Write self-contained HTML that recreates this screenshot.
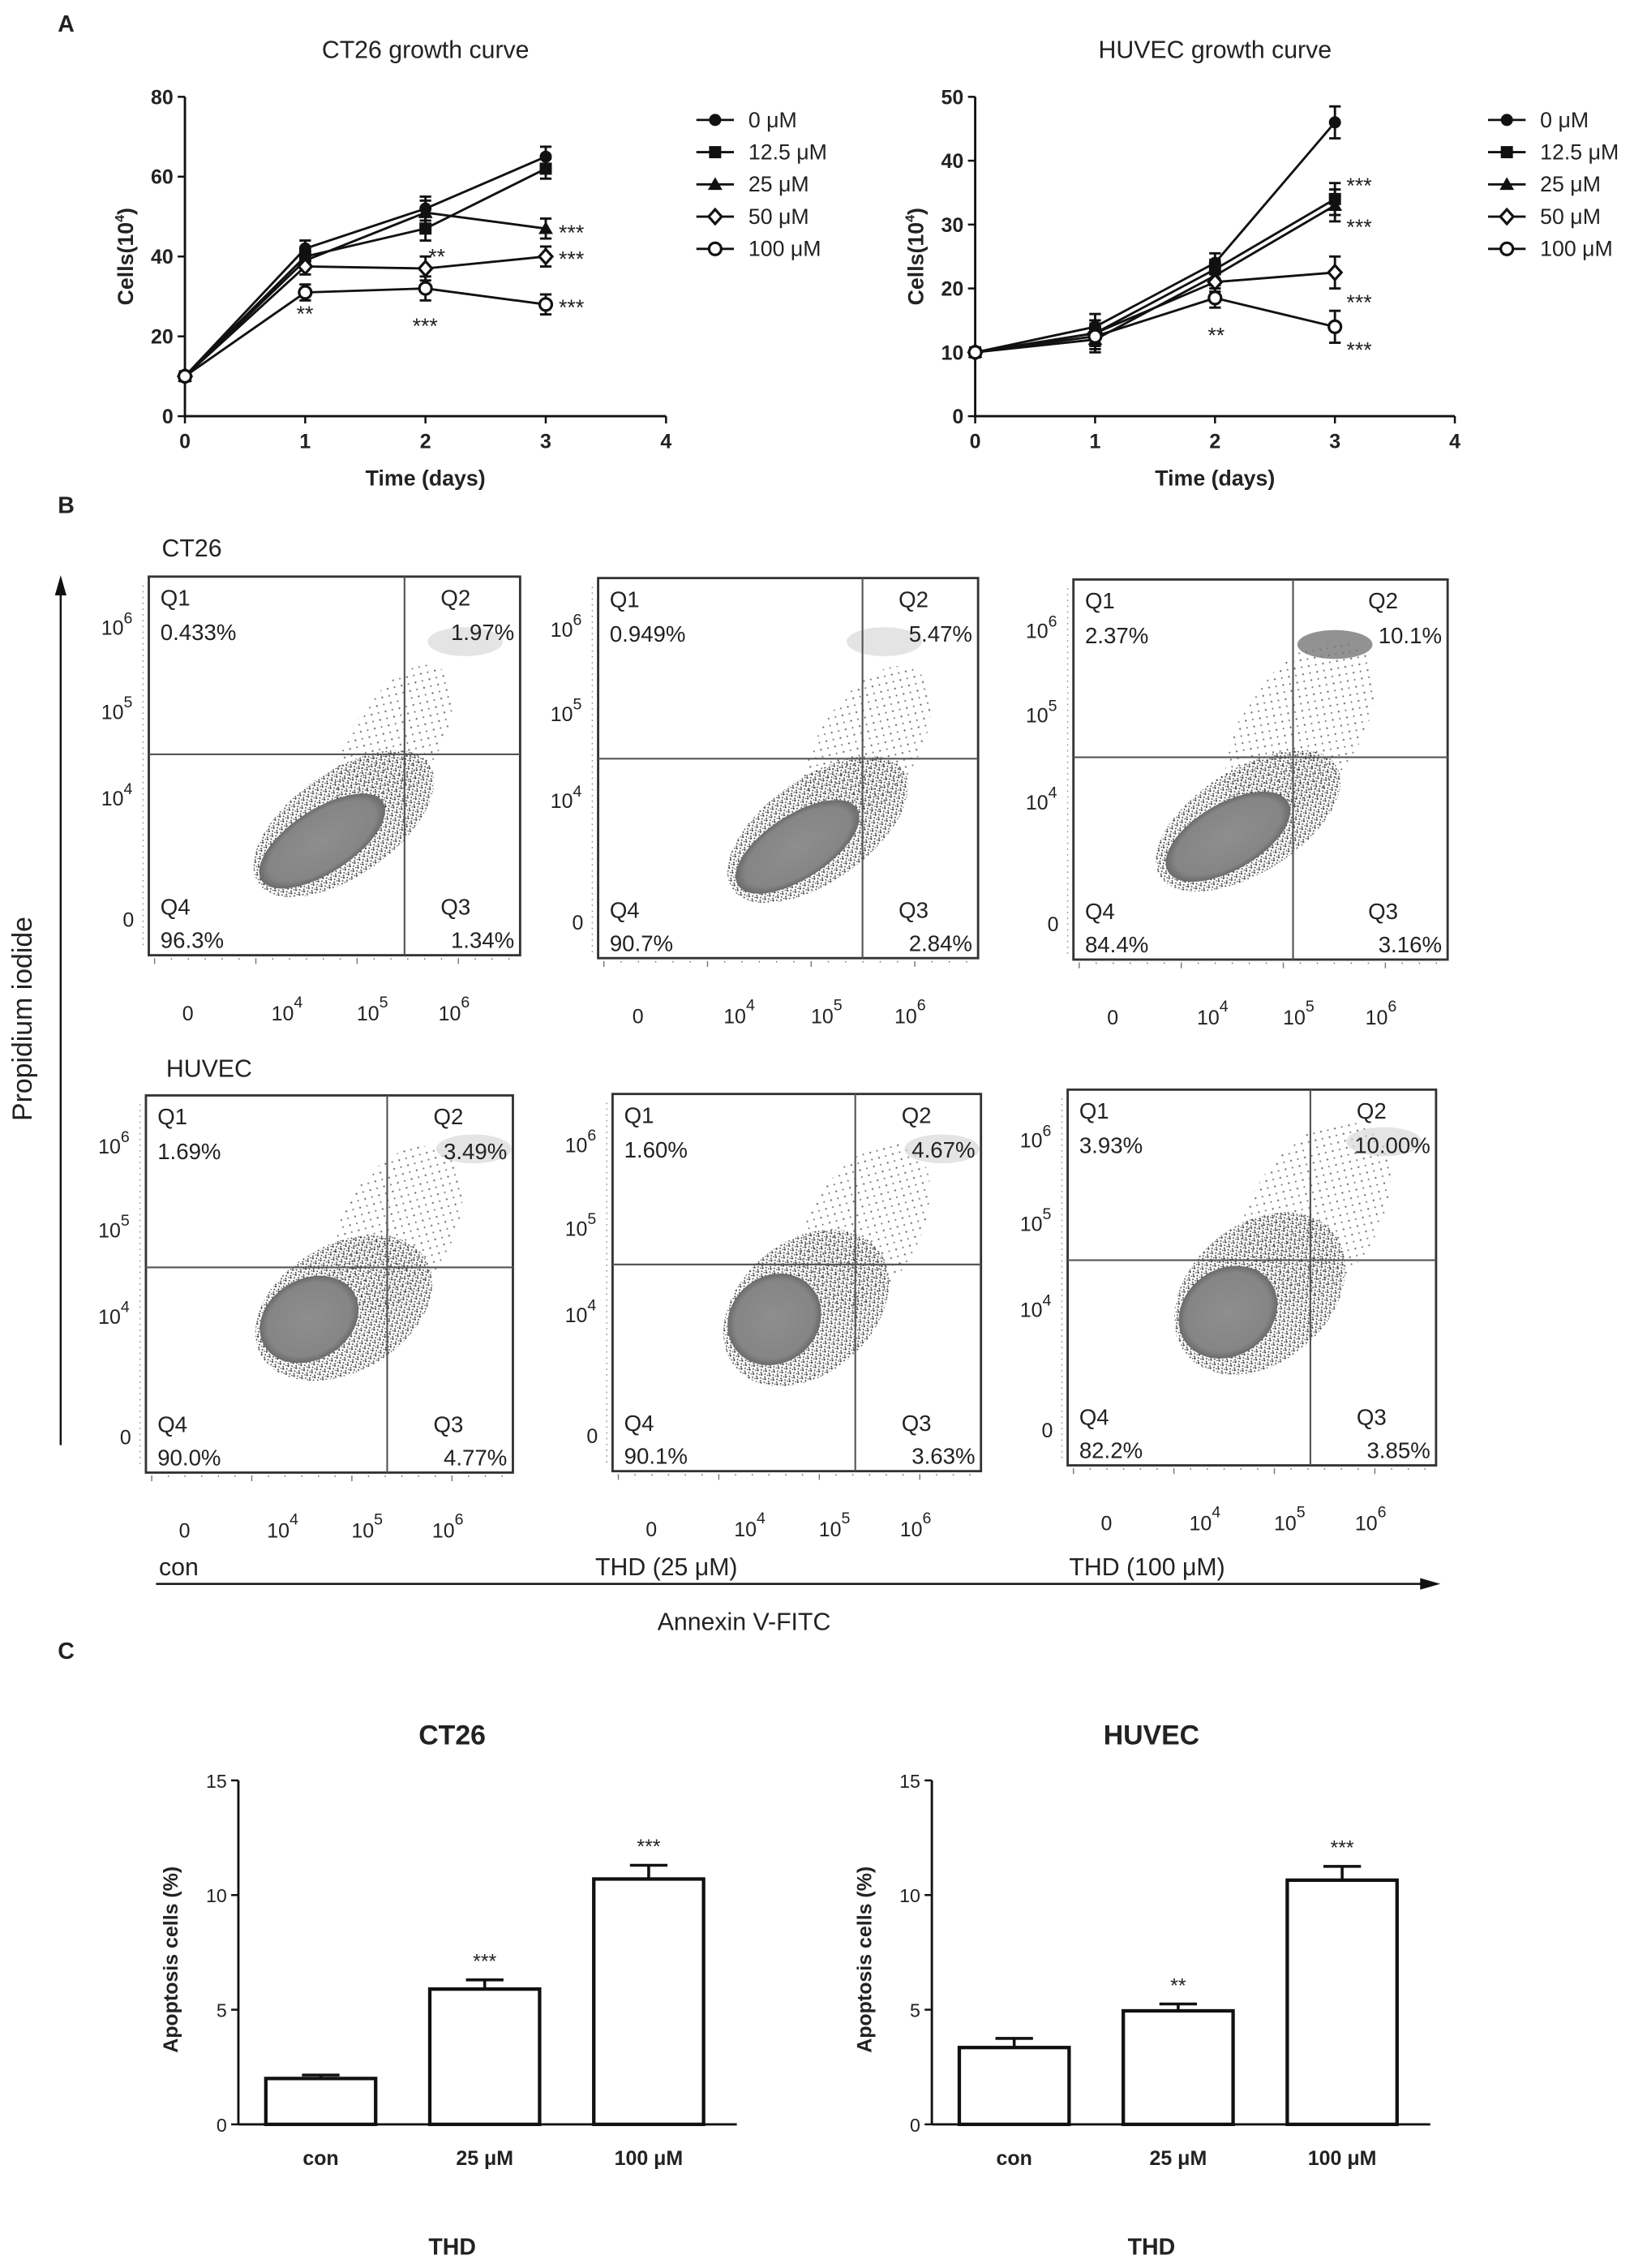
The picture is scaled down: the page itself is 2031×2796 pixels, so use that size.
<!DOCTYPE html>
<html><head><meta charset="utf-8">
<style>
html,body{margin:0;padding:0;background:#fff;}
svg{display:block;}
text{font-family:"Liberation Sans",Arial,sans-serif;fill:#222;}
</style></head>
<body>
<svg id="fig" width="2031" height="2796" viewBox="0 0 1140 1569.4" xmlns="http://www.w3.org/2000/svg">
<defs>
<pattern id="speck" width="4" height="4" patternUnits="userSpaceOnUse">
<rect x="0" y="0" width="1.2" height="1.2" fill="#222"/>
<rect x="2.2" y="1.4" width="1" height="1" fill="#333"/>
<rect x="0.8" y="2.8" width="1" height="1" fill="#2a2a2a"/>
<rect x="3" y="3.2" width="0.9" height="0.9" fill="#444"/>
</pattern>
<pattern id="speck2" width="7" height="7" patternUnits="userSpaceOnUse">
<rect x="1" y="1" width="1.1" height="1.1" fill="#444"/>
<rect x="4.5" y="4.5" width="1" height="1" fill="#555"/>
</pattern>
<radialGradient id="core" cx="50%" cy="50%" r="50%">
<stop offset="0" stop-color="#8e8e8e"/><stop offset="0.85" stop-color="#858585"/><stop offset="1" stop-color="#6a6a6a"/>
</radialGradient>
</defs>
<g id="root"></g>
</svg>
<script>
// ---------- Panel A data ----------
const days = [0, 1, 2, 3];
const doses = ["0 μM", "12.5 μM", "25 μM", "50 μM", "100 μM"];
const ct26Growth0 = [10, 42, 52, 65];
const ct26Growth125 = [10, 40, 47, 62];
const ct26Growth25 = [10, 39, 51, 47];
const ct26Growth50 = [10, 37.5, 37, 40];
const ct26Growth100 = [10, 31, 32, 28];
const ct26Err = [0.5, 2, 3, 2.5];
const huvecGrowth0 = [10, 14, 24, 46];
const huvecGrowth125 = [10, 13, 23, 34];
const huvecGrowth25 = [10, 12, 22, 33];
const huvecGrowth50 = [10, 13, 21, 22.5];
const huvecGrowth100 = [10, 12.5, 18.5, 14];
const huvecErr = [0.3, 2, 1.5, 2.5];
const ct26YTicks = [0, 20, 40, 60, 80];
const huvecYTicks = [0, 10, 20, 30, 40, 50];
const xTicks = [0, 1, 2, 3, 4];
// ---------- Panel C data ----------
const barCats = ["con", "25 μM", "100 μM"];
const ct26Apop = [2.0, 5.9, 10.7];
const ct26ApopErr = [0.15, 0.4, 0.6];
const ct26ApopSig = ["", "***", "***"];
const huvecApop = [3.35, 4.95, 10.65];
const huvecApopErr = [0.4, 0.3, 0.6];
const huvecApopSig = ["", "**", "***"];
const apopTicks = [0, 5, 10, 15];
// ---------- Panel B data ----------
const flowQ1 = ["0.433%", "0.949%", "2.37%", "1.69%", "1.60%", "3.93%"];
const flowQ2 = ["1.97%", "5.47%", "10.1%", "3.49%", "4.67%", "10.00%"];
const flowQ3 = ["1.34%", "2.84%", "3.16%", "4.77%", "3.63%", "3.85%"];
const flowQ4 = ["96.3%", "90.7%", "84.4%", "90.0%", "90.1%", "82.2%"];

const NS = "http://www.w3.org/2000/svg";
const root = document.getElementById("root");
function el(tag, attrs, parent, txt){
  const e = document.createElementNS(NS, tag);
  for (const k in attrs) e.setAttribute(k, attrs[k]);
  if (txt !== undefined) e.textContent = txt;
  (parent || root).appendChild(e);
  return e;
}
function T(x,y,s,size,opts,parent){
  opts = opts||{};
  const a = {x:x,y:y,"font-size":size,"text-anchor":opts.anchor||"start"};
  if (opts.bold) a["font-weight"]="bold";
  if (opts.transform) a.transform=opts.transform;
  return el("text",a,parent,s);
}
function g(name){ const e = el("g",{});   return e; }

[["A",40,22],["B",40,355],["C",40,1148]].forEach(p=>{
  const t=T(p[1],p[2],p[0],16,{bold:true});
  
  
});

function marker(type, x, y, parent){
  if (type===0) el("circle",{cx:x,cy:y,r:4.2,fill:"#111"},parent);
  else if (type===1) el("rect",{x:x-4.2,y:y-4.2,width:8.4,height:8.4,fill:"#111"},parent);
  else if (type===2) el("polygon",{points:`${x},${y-5} ${x+5},${y+3.8} ${x-5},${y+3.8}`,fill:"#111"},parent);
  else if (type===3) el("polygon",{points:`${x},${y-5} ${x+4.5},${y} ${x},${y+5} ${x-4.5},${y}`,fill:"#fff",stroke:"#111","stroke-width":1.8},parent);
  else el("circle",{cx:x,cy:y,r:4.2,fill:"#fff",stroke:"#111","stroke-width":1.8},parent);
}
function growth(cfg){
  const G = g(cfg.name);
  const X = d => cfg.x0 + d*(cfg.x1-cfg.x0)/4;
  const Y = v => cfg.y0 - v*(cfg.y0-cfg.y1)/cfg.ymax;
  const tt = T((cfg.x0+cfg.x1)/2, 40, cfg.title, 17, {anchor:"middle"}, G);
   
  el("line",{x1:cfg.x0,y1:cfg.y0,x2:cfg.x0,y2:cfg.y1,stroke:"#111","stroke-width":1.6},G);
  el("line",{x1:cfg.x0,y1:cfg.y0,x2:cfg.x1,y2:cfg.y0,stroke:"#111","stroke-width":1.6},G);
  cfg.yticks.forEach(v=>{
    el("line",{x1:cfg.x0-5,y1:Y(v),x2:cfg.x0,y2:Y(v),stroke:"#111","stroke-width":1.4},G);
    T(cfg.x0-8,Y(v)+5,String(v),14,{anchor:"end",bold:true},G);
  });
  xTicks.forEach(d=>{
    el("line",{x1:X(d),y1:cfg.y0,x2:X(d),y2:cfg.y0+5,stroke:"#111","stroke-width":1.4},G);
    T(X(d),cfg.y0+22,String(d),14,{anchor:"middle",bold:true},G);
  });
  const xl=T((cfg.x0+cfg.x1)/2,cfg.y0+48,"Time (days)",15,{anchor:"middle",bold:true},G);
   
  const yl=el("text",{x:0,y:0,"font-size":15,"font-weight":"bold","text-anchor":"middle",transform:`translate(${cfg.x0-36},${(cfg.y0+cfg.y1)/2}) rotate(-90)`},G);
   
  yl.innerHTML = 'Cells(10<tspan dy="-6" font-size="9">4</tspan><tspan dy="6">)</tspan>';
  cfg.series.forEach((s,i)=>{
    const sg = el("g",{},G);
    
    
    el("polyline",{points:s.map((v,j)=>X(days[j])+","+Y(v)).join(" "),fill:"none",stroke:"#111","stroke-width":1.6},sg);
    s.forEach((v,j)=>{
      const e=cfg.err[j]*(Y(0)-Y(1));
      el("line",{x1:X(days[j]),y1:Y(v)-e,x2:X(days[j]),y2:Y(v)+e,stroke:"#111","stroke-width":1.6},sg);
      el("line",{x1:X(days[j])-4,y1:Y(v)-e,x2:X(days[j])+4,y2:Y(v)-e,stroke:"#111","stroke-width":1.6},sg);
      el("line",{x1:X(days[j])-4,y1:Y(v)+e,x2:X(days[j])+4,y2:Y(v)+e,stroke:"#111","stroke-width":1.6},sg);
      marker(i,X(days[j]),Y(v),sg);
    });
  });
  cfg.stars.forEach(s=>{ T(X(s[0])+s[2],Y(s[1])+s[3],s[4],15,{anchor:"start"},G); });
  const L = el("g",{},G);
   
  doses.forEach((d,i)=>{
    const y = 83 + i*22.3;
    const le = el("g",{},L);
     
    el("line",{x1:cfg.lx,y1:y,x2:cfg.lx+26,y2:y,stroke:"#111","stroke-width":1.6},le);
    marker(i,cfg.lx+13,y,le);
    T(cfg.lx+36,y+5,d,15,{},le);
  });
}
growth({name:"ct26-growth-chart",title:"CT26 growth curve",x0:128,x1:461,y0:288,y1:67,ymax:80,yticks:ct26YTicks,err:ct26Err,
  series:[ct26Growth0,ct26Growth125,ct26Growth25,ct26Growth50,ct26Growth100],lx:482,
  stars:[[1,31,-6,20,"**"],[2,32,-9,31,"***"],[2,37,2,-3,"**"],[3,47,9,8,"***"],[3,40,9,7,"***"],[3,28,9,7,"***"]]});
growth({name:"huvec-growth-chart",title:"HUVEC  growth curve",x0:675,x1:1007,y0:288,y1:67,ymax:50,yticks:huvecYTicks,err:huvecErr,
  series:[huvecGrowth0,huvecGrowth125,huvecGrowth25,huvecGrowth50,huvecGrowth100],lx:1030,
  stars:[[3,34,8,-4,"***"],[3,33,8,20,"***"],[3,22.5,8,26,"***"],[3,14,8,21,"***"],[2,18.5,-5,31,"**"]]});

// ---------- Flow cytometry ----------
const boxes = [
  {x:103,y:399,w:257,h:262,vx:280,hy:522, c:[223,582,50,22,-33], h2:[238,570,72,36,-35], q2:[322,444], cl:[272,515,62,30,-58]},
  {x:414,y:400,w:263,h:263,vx:597,hy:525, c:[552,586,49,22,-33], h2:[566,574,72,36,-35], q2:[612,444], cl:[600,518,64,34,-58]},
  {x:743,y:401,w:259,h:263,vx:895,hy:524, c:[850,579,48,23,-30], h2:[864,568,72,36,-32], q2:[924,446], cl:[900,505,70,40,-55]},
  {x:101,y:758,w:254,h:261,vx:268,hy:877, c:[214,913,36,28,-30], h2:[238,905,66,44,-30], q2:[328,795], cl:[275,850,62,38,-60]},
  {x:424,y:757,w:255,h:261,vx:592,hy:875, c:[536,913,34,30,-40], h2:[558,905,64,46,-40], q2:[652,795], cl:[598,850,64,38,-60]},
  {x:739,y:754,w:255,h:260,vx:907,hy:872, c:[850,908,36,30,-35], h2:[872,895,66,48,-40], q2:[958,790], cl:[910,840,70,44,-58]}
];
boxes.forEach((b,i)=>{
  const G = g("flow-plot-"+(i+1));
  const cp = "cp"+i;
  const clip = el("clipPath",{id:cp},G);
  el("rect",{x:b.x,y:b.y,width:b.w,height:b.h},clip);
  const D = el("g",{"clip-path":`url(#${cp})`},G);
   
  const [cx,cy,rx,ry,rot]=b.c;
  const [hx,hy,hrx,hry,hrot]=b.h2;
  const [lx,ly,lrx,lry,lrot]=b.cl;
  el("ellipse",{cx:lx,cy:ly,rx:lrx,ry:lry,transform:`rotate(${lrot} ${lx} ${ly})`,fill:"url(#speck2)",opacity:0.85},D);
  el("ellipse",{cx:b.q2[0],cy:b.q2[1],rx:26,ry:10,fill:i===2?"#777":"#d8d8d8",opacity:i===2?0.8:0.7},D);
  el("ellipse",{cx:hx,cy:hy,rx:hrx,ry:hry,transform:`rotate(${hrot} ${hx} ${hy})`,fill:"url(#speck)",opacity:0.85},D);
  el("ellipse",{cx:cx,cy:cy,rx:rx,ry:ry,transform:`rotate(${rot} ${cx} ${cy})`,fill:"url(#core)"},D);
  el("rect",{x:b.x,y:b.y,width:b.w,height:b.h,fill:"none",stroke:"#333","stroke-width":1.6},G);
  el("line",{x1:b.vx,y1:b.y,x2:b.vx,y2:b.y+b.h,stroke:"#555","stroke-width":1.2},G);
  el("line",{x1:b.x,y1:b.hy,x2:b.x+b.w,y2:b.hy,stroke:"#555","stroke-width":1.2},G);
  const fs=15.5;
  T(b.x+8,b.y+20,"Q1",fs,{},G); T(b.x+8,b.y+44,flowQ1[i],fs,{},G);
  T(b.x+b.w-55,b.y+20,"Q2",fs,{},G); T(b.x+b.w-4,b.y+44,flowQ2[i],fs,{anchor:"end"},G);
  T(b.x+8,b.y+b.h-28,"Q4",fs,{},G); T(b.x+8,b.y+b.h-5,flowQ4[i],fs,{},G);
  T(b.x+b.w-55,b.y+b.h-28,"Q3",fs,{},G); T(b.x+b.w-4,b.y+b.h-5,flowQ3[i],fs,{anchor:"end"},G);
  [[0.154,"6"],[0.376,"5"],[0.605,"4"]].forEach(l=>{
    const t=el("text",{x:b.x-33,y:b.y+b.h*l[0],"font-size":14},G);
    t.innerHTML='10<tspan dy="-8" font-size="11">'+l[1]+'</tspan>';
  });
  T(b.x-18,b.y+b.h*0.925,"0",14,{},G);
  el("line",{x1:b.x-4,y1:b.y+6,x2:b.x-4,y2:b.y+b.h-4,stroke:"#999","stroke-width":0.8,"stroke-dasharray":"1 3"},G);
  const bx=b.y+b.h+45;
  T(b.x+b.w*0.09,bx,"0",14,{},G);
  [[0.33,"4"],[0.56,"5"],[0.78,"6"]].forEach(l=>{
    const t=el("text",{x:b.x+b.w*l[0],y:bx,"font-size":14},G);
    t.innerHTML='10<tspan dy="-9" font-size="11">'+l[1]+'</tspan>';
  });
  for(let k=0;k<22;k++){ el("line",{x1:b.x+4+k*b.w/22,y1:b.y+b.h+2,x2:b.x+4+k*b.w/22,y2:b.y+b.h+(k%6==0?6:3),stroke:"#777","stroke-width":0.8},G); }
});
[["CT26",112,385],["HUVEC",115,745]].forEach(s=>{const t=T(s[1],s[2],s[0],17);  });
[["con",110,1090],["THD (25 μM)",412,1090],["THD (100 μM)",740,1090]].forEach(s=>{const t=T(s[1],s[2],s[0],17);  });
{
  const a=g("y-axis-arrow");
  el("line",{x1:42,y1:1000,x2:42,y2:410,stroke:"#111","stroke-width":1.4},a);
  el("polygon",{points:"42,398 38,412 46,412",fill:"#111"},a);
  T(0,0,"Propidium iodide",19,{anchor:"middle",transform:"translate(22,705) rotate(-90)"},a);
  const b2=g("x-axis-arrow");
  el("line",{x1:108,y1:1096,x2:985,y2:1096,stroke:"#111","stroke-width":1.4},b2);
  el("polygon",{points:"997,1096 983,1092 983,1100",fill:"#111"},b2);
  T(515,1128,"Annexin V-FITC",17,{anchor:"middle"},b2);
}

// ---------- Bar charts ----------
function bars(cfg){
  const G = g(cfg.name);
  const y0=1470, y1=1232, Y=v=>y0-v*(y0-y1)/15;
  const ax=cfg.ax;
  T(cfg.tx,1207,cfg.title,19,{anchor:"middle",bold:true},G);
  el("line",{x1:ax,y1:y0,x2:ax,y2:y1,stroke:"#111","stroke-width":1.6},G);
  el("line",{x1:ax,y1:y0,x2:ax+345,y2:y0,stroke:"#111","stroke-width":1.6},G);
  apopTicks.forEach(v=>{
    el("line",{x1:ax-5,y1:Y(v),x2:ax,y2:Y(v),stroke:"#111","stroke-width":1.4},G);
    T(ax-8,Y(v)+5,String(v),13,{anchor:"end"},G);
  });
  T(0,0,"Apoptosis cells (%)",14,{anchor:"middle",bold:true,transform:`translate(${ax-42},${(y0+y1)/2+5}) rotate(-90)`},G);
  barCats.forEach((c,i)=>{
    const cx=ax+57+i*113.5;
    const r=el("rect",{x:cx-38,y:Y(cfg.vals[i]),width:76,height:y0-Y(cfg.vals[i]),fill:"#fff",stroke:"#111","stroke-width":2.4},G);
    
    
    const e=Y(cfg.vals[i]+cfg.err[i]);
    el("line",{x1:cx,y1:Y(cfg.vals[i]),x2:cx,y2:e,stroke:"#111","stroke-width":2},G);
    el("line",{x1:cx-13,y1:e,x2:cx+13,y2:e,stroke:"#111","stroke-width":2},G);
    if(cfg.sig[i]) T(cx,e-8,cfg.sig[i],14,{anchor:"middle"},G);
    T(cx,y0+28,c,14,{anchor:"middle",bold:true},G);
  });
  T(cfg.tx,1560,"THD",16,{anchor:"middle",bold:true},G);
}
bars({name:"ct26-apoptosis-chart",title:"CT26",ax:165,tx:313,vals:ct26Apop,err:ct26ApopErr,sig:ct26ApopSig});
bars({name:"huvec-apoptosis-chart",title:"HUVEC",ax:645,tx:797,vals:huvecApop,err:huvecApopErr,sig:huvecApopSig});
</script>
</body></html>
